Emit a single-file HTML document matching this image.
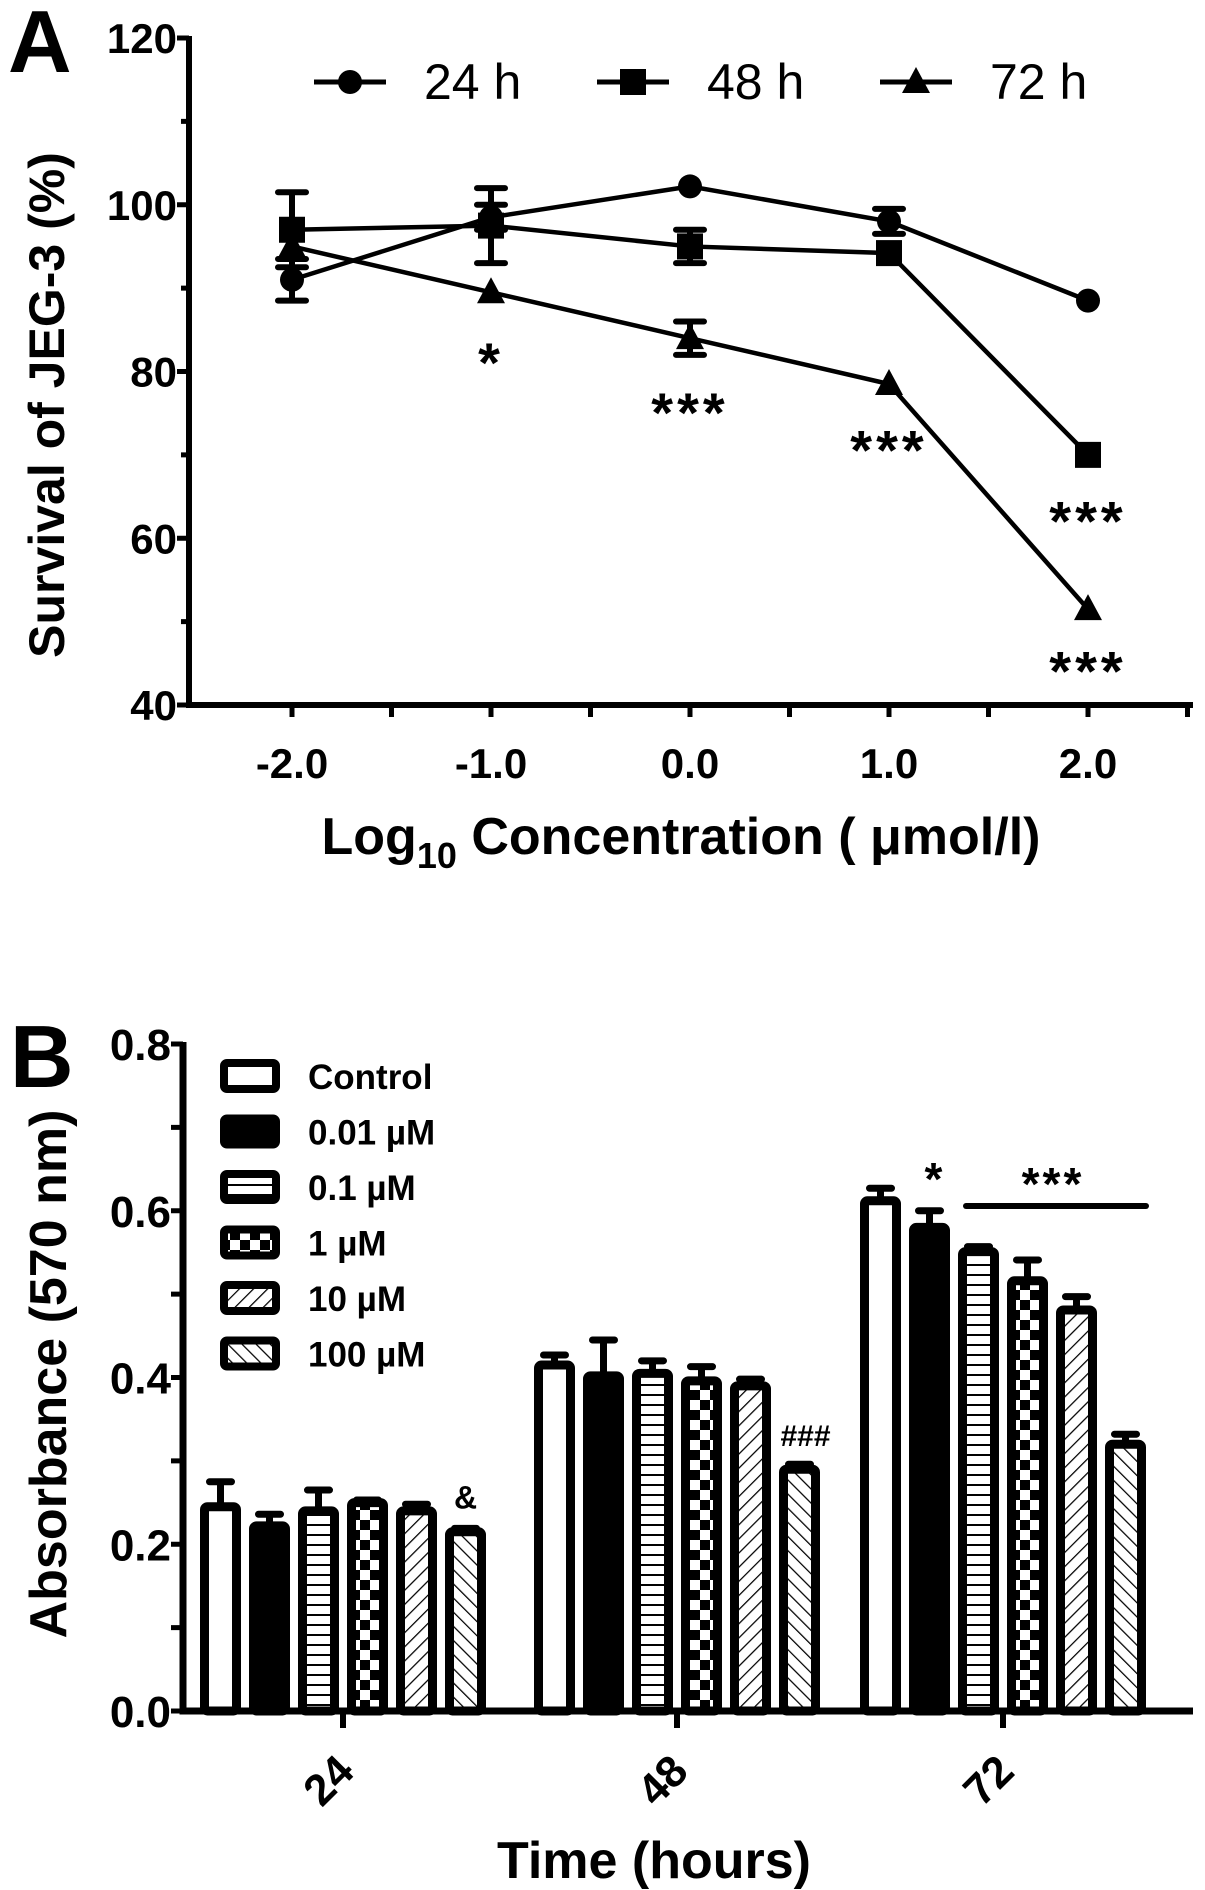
<!DOCTYPE html>
<html><head><meta charset="utf-8"><style>
html,body{margin:0;padding:0;background:#fff;}
svg{display:block;font-family:"Liberation Sans",Arial,sans-serif;}
</style></head><body>
<svg id="fig" width="1205" height="1890" viewBox="0 0 1205 1890" xmlns="http://www.w3.org/2000/svg">
<defs>
<pattern id="p-hlines" width="10" height="10" patternUnits="userSpaceOnUse"><rect width="10" height="10" fill="#fff"/><line x1="0" y1="5" x2="10" y2="5" stroke="#000" stroke-width="2"/></pattern>
<pattern id="p-check" width="20" height="20" patternUnits="userSpaceOnUse"><rect width="20" height="20" fill="#fff"/><rect width="10" height="10" fill="#000"/><rect x="10" y="10" width="10" height="10" fill="#000"/></pattern>
<pattern id="p-fwd" width="10" height="10" patternUnits="userSpaceOnUse" patternTransform="rotate(45)"><rect width="10" height="10" fill="#fff"/><line x1="0" y1="0" x2="0" y2="10" stroke="#000" stroke-width="2.5"/></pattern>
<pattern id="p-back" width="10" height="10" patternUnits="userSpaceOnUse" patternTransform="rotate(-45)"><rect width="10" height="10" fill="#fff"/><line x1="0" y1="0" x2="0" y2="10" stroke="#000" stroke-width="2.5"/></pattern>
</defs>
<g id="panelA"></g>
<g id="panelB"></g>
</svg>
<script>
// ---- Panel A data ----
const concA = [-2, -1, 0, 1, 2];
const s24 = [91, 98.5, 102.2, 98, 88.5];
const e24 = [2.5, 1.5, 0.5, 1.5, 0.5];
const s48 = [97, 97.5, 95, 94.2, 70];
const e48 = [4.5, 4.5, 2, 0.8, 0.5];
const s72 = [95, 89.5, 84, 78.5, 51.5];
const e72 = [0.5, 0.5, 2, 0.5, 0.5];
const yTicksA = [40, 60, 80, 100, 120];
const xTicksA = [-2, -1, 0, 1, 2];
const xTickLabelsA = ["-2.0", "-1.0", "0.0", "1.0", "2.0"];
const sigA = [{x:-1,y:79,t:"*"},{x:0,y:73,t:"***"},{x:1,y:68.5,t:"***"},{x:2,y:60,t:"***"},{x:2,y:42,t:"***"}];
// ---- Panel B data ----
const groupsB = ["24", "48", "72"];
const seriesB = ["Control", "0.01 µM", "0.1 µM", "1 µM", "10 µM", "100 µM"];
const v24 = [0.245, 0.222, 0.24, 0.25, 0.24, 0.215];
const v48 = [0.415, 0.402, 0.405, 0.396, 0.39, 0.29];
const v72 = [0.612, 0.58, 0.551, 0.516, 0.481, 0.32];
const err24 = [0.03, 0.014, 0.025, 0.003, 0.008, 0.004];
const err48 = [0.012, 0.043, 0.015, 0.017, 0.008, 0.006];
const err72 = [0.015, 0.02, 0.006, 0.025, 0.016, 0.012];
const yTicksB = [0, 0.2, 0.4, 0.6, 0.8];
const yTickLabelsB = ["0.0", "0.2", "0.4", "0.6", "0.8"];

const NS = "http://www.w3.org/2000/svg";
function el(parent, tag, attrs, text) {
  const e = document.createElementNS(NS, tag);
  for (const k in attrs) e.setAttribute(k, attrs[k]);
  if (text !== undefined) e.textContent = text;
  parent.appendChild(e);
  return e;
}
const A = document.getElementById("panelA");
const B = document.getElementById("panelB");

// ===== Panel A =====
const axL = 189, axR = 1193, axB = 705, axT = 38;
const xA = v => 292 + (v + 2) * 199;
const yA = v => axB - (v - 40) / 80 * (axB - axT);

let t = el(A, "text", {x: 8, y: 72, "font-size": 88, "font-weight": "bold"}, "A");



let ax = el(A, "path", {d: `M${axL},${axT-2} V${axB} H${axR}`, fill: "none", stroke: "#000", "stroke-width": 6});


for (let v = 40; v <= 120; v += 10) {
  const y = yA(v); const major = v % 20 === 0;
  const tk = el(A, "line", {x1: axL - (major ? 12 : 8), y1: y, x2: axL, y2: y, stroke: "#000", "stroke-width": 5});
  
  
}
yTicksA.forEach(v => {
  const lb = el(A, "text", {x: axL - 12, y: yA(v) + 15, "font-size": 42, "font-weight": "bold", "text-anchor": "end"}, String(v));
  
  
});
for (let v = -2.5; v <= 2.51; v += 0.5) {
  if (Math.abs(v + 2.5) < 0.01) continue;
  const x = xA(v);
  const tk = el(A, "line", {x1: x, y1: axB, x2: x, y2: axB + 12, stroke: "#000", "stroke-width": 5});
  
  
}
xTicksA.forEach((v, i) => {
  const lb = el(A, "text", {x: xA(v), y: 778, "font-size": 42, "font-weight": "bold", "text-anchor": "middle"}, xTickLabelsA[i]);
  
  
});
let xt = el(A, "text", {x: 681, y: 854, "font-size": 52, "font-weight": "bold", "text-anchor": "middle"});
xt.innerHTML = 'Log<tspan font-size="36" dy="14">10</tspan><tspan dy="-14"> Concentration ( μmol/l)</tspan>';


let yt = el(A, "text", {x: 0, y: 0, "font-size": 50, "font-weight": "bold", "text-anchor": "middle", transform: "translate(64,405) rotate(-90)"}, "Survival of JEG-3 (%)");



function marker(g, type, x, y, name) {
  let m;
  if (type === "circle") m = el(g, "circle", {cx: x, cy: y, r: 12, fill: "#000"});
  else if (type === "square") m = el(g, "rect", {x: x - 13, y: y - 13, width: 26, height: 26, fill: "#000"});
  else m = el(g, "polygon", {points: `${x},${y-15} ${x+14},${y+11} ${x-14},${y+11}`, fill: "#000"});
  
  
}
const seriesA = [["24h", s24, e24, "circle"], ["48h", s48, e48, "square"], ["72h", s72, e72, "triangle"]];
seriesA.forEach(([nm, vals, errs, mk]) => {
  const g = el(A, "g", {});
  
  
  const ln = el(g, "polyline", {points: concA.map((c, i) => `${xA(c)},${yA(vals[i])}`).join(" "), fill: "none", stroke: "#000", "stroke-width": 4.5});
  
  
  concA.forEach((c, i) => {
    if (errs[i] > 1) {
      const x = xA(c), y1 = yA(vals[i] + errs[i]), y2 = yA(vals[i] - errs[i]);
      const eb = el(g, "path", {d: `M${x},${y1} V${y2} M${x-14},${y1} H${x+14} M${x-14},${y2} H${x+14}`, stroke: "#000", "stroke-width": 6, "stroke-linecap": "round", fill: "none"});
      
      
    }
    marker(g, mk, xA(c), yA(vals[i]), 'point-' + nm);
  });
});
sigA.forEach(s => {
  const st = el(A, "text", {x: xA(s.x), y: yA(s.y) + 2, "font-size": 56, "font-weight": "bold", "text-anchor": "middle", "letter-spacing": 4}, s.t);
  
  
});
// legend A
[["24 h", 350, "circle"], ["48 h", 633, "square"], ["72 h", 916, "triangle"]].forEach(([lbl, cx, mk]) => {
  const g = el(A, "g", {});
  
  
  el(g, "line", {x1: cx - 36, y1: 82, x2: cx + 36, y2: 82, stroke: "#000", "stroke-width": 5});
  marker(g, mk, cx, 82, 'legend-marker');
  const tx = el(g, "text", {x: cx + 74, y: 99, "font-size": 50}, lbl);
  
  
});

// ===== Panel B =====
const bL = 183, bR = 1193, bB = 1711, bT = 1044;
const yB = v => bB - v / 0.8 * (bB - bT);
const groupCenters = [343, 677, 1003];
const xBar = (g, i) => groupCenters[g] + (i - 2.5) * 49;
const fills = ["#fff", "#000", "url(#p-hlines)", "url(#p-check)", "url(#p-fwd)", "url(#p-back)"];
const valsB = [v24, v48, v72], errsB = [err24, err48, err72];

let tb = el(B, "text", {x: 10, y: 1087, "font-size": 88, "font-weight": "bold"}, "B");



valsB.forEach((vals, g) => {
  vals.forEach((v, i) => {
    const x = xBar(g, i), y = yB(v), e = errsB[g][i];
    const eb = el(B, "path", {d: `M${x},${y} V${yB(v + e)} M${x-11},${yB(v + e)} H${x+11}`, stroke: "#000", "stroke-width": 7, "stroke-linecap": "round", fill: "none"});
    
    
    const r = el(B, "rect", {x: x - 16, y: y, width: 32, height: bB - y, fill: fills[i], stroke: "#000", "stroke-width": 9, rx: 3});
    
    
  });
});
let axB2 = el(B, "path", {d: `M${bL},${bT-2} V${bB} H${bR}`, fill: "none", stroke: "#000", "stroke-width": 7});


for (let v = 0; v <= 0.801; v += 0.1) {
  const y = yB(v);
  const tk = el(B, "line", {x1: bL - 12, y1: y, x2: bL, y2: y, stroke: "#000", "stroke-width": 5});
  
  
}
yTicksB.forEach((v, i) => {
  const lb = el(B, "text", {x: bL - 12, y: yB(v) + 16, "font-size": 44, "font-weight": "bold", "text-anchor": "end"}, yTickLabelsB[i]);
  
  
});
groupCenters.forEach((cx, g) => {
  const tk = el(B, "line", {x1: cx, y1: bB, x2: cx, y2: bB + 17, stroke: "#000", "stroke-width": 6});
  
  
  const lb = el(B, "text", {x: 0, y: 0, "font-size": 44, "font-weight": "bold", "text-anchor": "middle", transform: `translate(${cx - 4},${bB + 80}) rotate(-45)`}, groupsB[g]);
  
  
});
let xtb = el(B, "text", {x: 654, y: 1878, "font-size": 52, "font-weight": "bold", "text-anchor": "middle"}, "Time (hours)");


let ytb = el(B, "text", {x: 0, y: 0, "font-size": 52, "font-weight": "bold", "text-anchor": "middle", transform: "translate(66,1374) rotate(-90)"}, "Absorbance (570 nm)");


// annotations
let a1 = el(B, "text", {x: xBar(0, 5), y: yB(0.219) - 20, "font-size": 32, "font-weight": "bold", "text-anchor": "middle"}, "&");


let a2 = el(B, "text", {x: xBar(1, 5) + 6, y: yB(0.296) - 18, "font-size": 30, "font-weight": "bold", "text-anchor": "middle"}, "###");


let a3 = el(B, "text", {x: xBar(2, 1) + 4, y: 1195, "font-size": 46, "font-weight": "bold", "text-anchor": "middle"}, "*");


let a4 = el(B, "line", {x1: 966, y1: 1206, x2: 1146, y2: 1206, stroke: "#000", "stroke-width": 6, "stroke-linecap": "round"});


let a5 = el(B, "text", {x: 1053, y: 1200, "font-size": 46, "font-weight": "bold", "text-anchor": "middle", "letter-spacing": 3}, "***");


// legend B
seriesB.forEach((s, i) => {
  const y = 1076 + i * 55.5;
  const g = el(B, "g", {});
  
  
  const sw = el(g, "rect", {x: 224, y: y - 13, width: 52, height: 26, fill: fills[i], stroke: "#000", "stroke-width": 8, rx: 3});
  
  
  const tx = el(g, "text", {x: 308, y: y + 13, "font-size": 35, "font-weight": "bold"}, s);
  
  
});
</script>
</body></html>
